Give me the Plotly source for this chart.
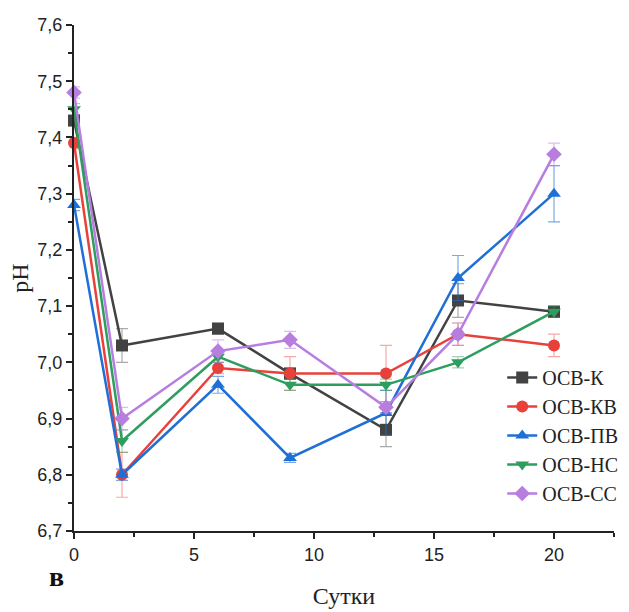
import plotly.graph_objects as go

days = [0, 2, 6, 9, 13, 16, 20]
names = ["ОСВ-К", "ОСВ-КВ", "ОСВ-ПВ", "ОСВ-НС", "ОСВ-СС"]

ph_k = [7.43, 7.03, 7.06, 6.98, 6.88, 7.11, 7.09]
ph_kv = [7.39, 6.80, 6.99, 6.98, 6.98, 7.05, 7.03]
ph_pv = [7.28, 6.80, 6.96, 6.83, 6.91, 7.15, 7.30]
ph_ns = [7.45, 6.86, 7.01, 6.96, 6.96, 7.00, 7.09]
ph_ss = [7.48, 6.90, 7.02, 7.04, 6.92, 7.05, 7.37]

err_k = [0.01, 0.03, 0.01, 0.01, 0.03, 0.03, 0.01]
err_kv = [0.01, 0.04, 0.01, 0.03, 0.05, 0.02, 0.02]
err_pv = [0.01, 0.01, 0.015, 0.008, 0.04, 0.04, 0.05]
err_ns = [0.01, 0.02, 0.01, 0.01, 0.01, 0.01, 0.01]
err_ss = [0.01, 0.02, 0.02, 0.015, 0.01, 0.02, 0.02]

series = [ph_k, ph_kv, ph_pv, ph_ns, ph_ss]
errors = [err_k, err_kv, err_pv, err_ns, err_ss]
colors = ["#424242", "#e8413b", "#1f6fd6", "#2e9e5e", "#b77ee0"]
err_colors = ["rgba(66,66,66,0.45)", "rgba(232,65,59,0.45)", "rgba(31,111,214,0.6)",
              "rgba(46,158,94,0.45)", "rgba(183,126,224,0.5)"]
symbols = ["square", "circle", "triangle-up", "triangle-down", "diamond"]

SERIF = "Liberation Serif"
SANS = "Liberation Sans"

fig = go.Figure()
for nm, ys, es, c, ec, s in zip(names, series, errors, colors, err_colors, symbols):
    fig.add_trace(go.Scatter(
        x=days, y=ys, name=nm, mode="lines+markers",
        line=dict(color=c, width=2.5),
        marker=dict(symbol=s, size=12, color=c),
        error_y=dict(type="data", array=es, visible=True, color=ec, thickness=1.2, width=6),
        cliponaxis=False,
    ))

axis_common = dict(
    showline=True, linecolor="#222222", linewidth=2, mirror=False,
    ticks="outside", ticklen=6, tickwidth=2, tickcolor="#222222",
    showgrid=False, zeroline=False,
    tickfont=dict(family=SANS, size=18, color="#222222"),
)

fig.update_layout(
    width=629, height=612,
    margin=dict(l=74, r=15, t=25, b=81, autoexpand=False),
    plot_bgcolor="white", paper_bgcolor="white",
    separators=",.",
    xaxis=dict(
        range=[0, 22.5], tickvals=[0, 5, 10, 15, 20],
        minor=dict(tickvals=[2.5, 7.5, 12.5, 17.5, 22.5], ticks="outside", ticklen=4,
                   tickwidth=1.5, tickcolor="#222222"),
        title=dict(text="Сутки", font=dict(family=SERIF, size=24, color="#222222"),
                   standoff=24),
        automargin=False,
        **axis_common,
    ),
    yaxis=dict(
        range=[6.7, 7.6], dtick=0.1, tick0=6.7, tickformat=".1f",
        minor=dict(dtick=0.05, ticks="outside", ticklen=4, tickwidth=1.5, tickcolor="#222222"),
        title=dict(text="pH", font=dict(family=SERIF, size=24, color="#222222"),
                   standoff=2),
        automargin=False,
        **axis_common,
    ),
    legend=dict(
        x=0.793, y=0.342, xanchor="left", yanchor="top",
        bgcolor="rgba(0,0,0,0)",
        font=dict(family=SERIF, size=20, color="#222222"),
        tracegroupgap=0, itemwidth=30,
    ),
    showlegend=True,
)

fig.add_annotation(
    text="<b>в</b>", xref="paper", yref="paper", x=-0.033, y=-0.09,
    xanchor="center", yanchor="middle", showarrow=False,
    font=dict(family=SERIF, size=28, color="#111111"),
)

fig.write_html("out.html")
